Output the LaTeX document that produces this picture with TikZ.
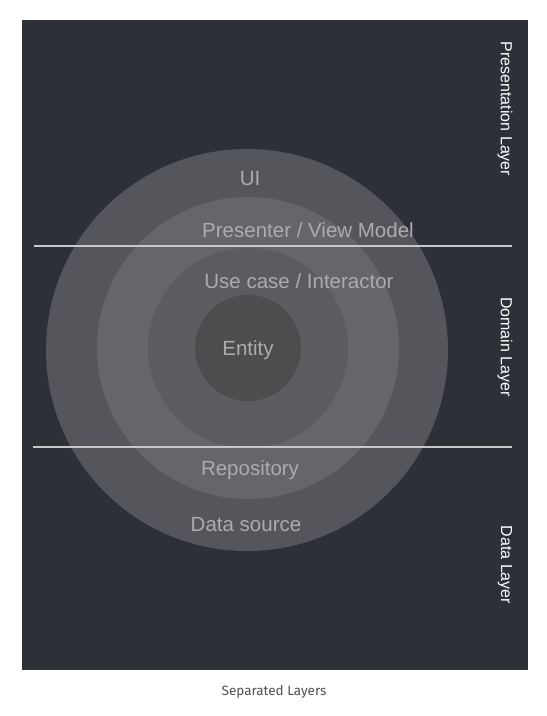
\documentclass[tikz,border=0pt]{standalone}
\usepackage{fontspec}
\setmainfont{Liberation Sans}
\newfontfamily\captionfont{Fira Sans}
\usepackage{tikz}
\definecolor{bgdark}{RGB}{46,48,56}
\definecolor{ringone}{RGB}{85,86,91}
\definecolor{ringtwo}{RGB}{101,101,106}
\definecolor{ringthree}{RGB}{92,92,96}
\definecolor{ringfour}{RGB}{77,77,80}
\definecolor{labelgrey}{RGB}{172,172,174}
\definecolor{sepline}{RGB}{200,200,200}
\definecolor{captiongrey}{RGB}{80,80,80}
\pgfdeclarelayer{edgelayer}
\pgfdeclarelayer{nodelayer}
\pgfsetlayers{main,nodelayer,edgelayer}
\tikzstyle{ring}=[circle,inner sep=0pt,draw=none]
\tikzstyle{inlabel}=[text=labelgrey,font=\fontsize{20.5}{22}\selectfont,inner sep=0pt]
\tikzstyle{layerlabel}=[text=white,font=\fontsize{16}{18}\selectfont,rotate=-90,inner sep=0pt]

\begin{document}
\begin{tikzpicture}[x=1pt,y=-1pt]
        \useasboundingbox (0,0) rectangle (547,716);
        \fill [bgdark] (22,20) rectangle (528,670);

        \begin{pgfonlayer}{nodelayer}
            \node [style = ring, fill=ringone, minimum size=402pt] (outer) at (247,350) {};
            \node [style = ring, fill=ringtwo, minimum size=302pt] (middle) at (248,348) {};
            \node [style = ring, fill=ringthree, minimum size=200pt] (inner) at (248,348) {};
            \node [style = ring, fill=ringfour, minimum size=106pt] (core) at (248,348) {};

            \node [style = inlabel] (ui) at (250,179) {UI};
            \node [style = inlabel] (presenter) at (308,230) {Presenter / View Model};
            \node [style = inlabel] (usecase) at (299,281) {Use case / Interactor};
            \node [style = inlabel] (entity) at (248,350) {Entity};
            \node [style = inlabel] (repo) at (250,470) {Repository};
            \node [style = inlabel] (source) at (246,525) {Data source};

            \node [style = layerlabel] (presl) at (505,109) {Presentation Layer};
            \node [style = layerlabel] (doml) at (505,347) {Domain Layer};
            \node [style = layerlabel] (datal) at (505,565) {Data Layer};

            \node [text=captiongrey, font=\captionfont\fontsize{13.5}{15}\selectfont] (caption) at (274,692) {Separated Layers};
        \end{pgfonlayer}

        \begin{pgfonlayer}{edgelayer}
            \coordinate (topleft) at (34,246);
            \coordinate (topright) at (512,246);
            \coordinate (lowleft) at (33,447);
            \coordinate (lowright) at (512,447);
            \draw [sepline, line width=1.8pt] (topleft) to (topright);
            \draw [sepline, line width=1.8pt] (lowleft) to (lowright);
        \end{pgfonlayer}
    \end{tikzpicture}
\end{document}
